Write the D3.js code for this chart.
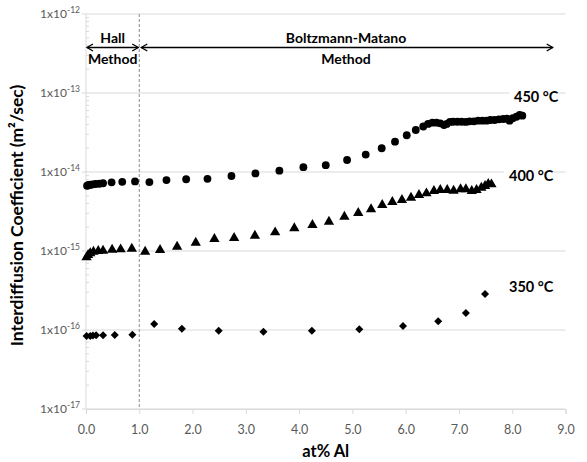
<!DOCTYPE html>
<html><head><meta charset="utf-8">
<script src="https://cdn.jsdelivr.net/npm/d3@7"></script>
<style>body{margin:0;background:#fff}</style>
</head><body>
<svg id="c" width="587" height="462"></svg>
<script>
const xTicks = [0,1,2,3,4,5,6,7,8,9];
const yExps = [-12,-13,-14,-15,-16,-17];

const x450 = [0.02,0.04,0.06,0.09,0.13,0.18,0.25,0.32,0.48,0.68,0.92,1.19,1.51,1.88,2.28,2.73,3.18,3.63,4.08,4.50,4.90,5.25,5.55,5.80,6.02,6.19,6.33,6.42,6.50,6.58,6.65,6.72,6.77,6.83,6.89,6.97,7.05,7.13,7.20,7.28,7.36,7.44,7.52,7.59,7.67,7.75,7.83,7.90,7.95,8.01,8.08,8.14,8.19];
const d450 = [6.7e-15,6.8e-15,6.85e-15,6.9e-15,6.98e-15,7.05e-15,7.1e-15,7.2e-15,7.4e-15,7.5e-15,7.6e-15,7.45e-15,7.9e-15,8.1e-15,8.2e-15,8.9e-15,9.6e-15,1.04e-14,1.15e-14,1.22e-14,1.42e-14,1.66e-14,2.0e-14,2.42e-14,2.92e-14,3.4e-14,3.77e-14,4.06e-14,4.21e-14,4.21e-14,4.13e-14,3.93e-14,4.06e-14,4.3e-14,4.33e-14,4.33e-14,4.33e-14,4.3e-14,4.38e-14,4.38e-14,4.46e-14,4.46e-14,4.46e-14,4.55e-14,4.55e-14,4.64e-14,4.69e-14,4.73e-14,4.46e-14,4.79e-14,5.0e-14,5.27e-14,5.17e-14];

const x400 = [0.01,0.04,0.08,0.14,0.23,0.32,0.49,0.65,0.86,1.11,1.39,1.71,2.06,2.41,2.78,3.17,3.55,3.91,4.25,4.56,4.85,5.11,5.35,5.56,5.75,5.93,6.10,6.25,6.39,6.53,6.65,6.78,6.90,7.03,7.13,7.24,7.33,7.42,7.49,7.55,7.61];
const d400 = [8.3e-16,8.9e-16,9.35e-16,9.8e-16,1.0e-15,1.01e-15,1.04e-15,1.05e-15,1.07e-15,9.8e-16,1.03e-15,1.13e-15,1.27e-15,1.42e-15,1.46e-15,1.56e-15,1.72e-15,1.94e-15,2.13e-15,2.35e-15,2.72e-15,3.03e-15,3.37e-15,3.82e-15,4.17e-15,4.42e-15,4.73e-15,5.12e-15,5.37e-15,5.74e-15,5.91e-15,5.91e-15,5.8e-15,6.04e-15,6.04e-15,5.74e-15,5.91e-15,6.33e-15,6.65e-15,7.05e-15,6.98e-15];

const x350 = [0.01,0.08,0.13,0.19,0.32,0.54,0.87,1.28,1.80,2.49,3.33,4.24,5.13,5.95,6.61,7.13,7.49];
const d350 = [8.4e-17,8.4e-17,8.5e-17,8.57e-17,8.57e-17,8.65e-17,8.73e-17,1.19e-16,1.04e-16,9.8e-17,9.5e-17,9.8e-17,1.02e-16,1.12e-16,1.29e-16,1.64e-16,2.85e-16];

const seriesLabels = ["450 °C","400 °C","350 °C"];
const methodSplit = 1.0;
const bmEnd = 8.76;

const svg = d3.select("#c");
const L=86, R=565.5, T=14, B=409;
const x = d3.scaleLinear().domain([0,9]).range([L,R]);
const y = d3.scaleLog().domain([1e-17,1e-12]).range([B,T]);
const gridC="#d9d9d9", txtC="#595959";
const font="Lato, 'Open Sans', sans-serif";

// gridlines
svg.append("g").selectAll("line").data(yExps).join("line")
  .attr("x1",L).attr("x2",R)
  .attr("y1",d=>y(Math.pow(10,d))).attr("y2",d=>y(Math.pow(10,d)))
  .attr("stroke",gridC).attr("stroke-width",1);

// y axis line + minor ticks
svg.append("line").attr("x1",L).attr("x2",L).attr("y1",T).attr("y2",B).attr("stroke",gridC);
const minor=[];
for(let e=-17;e<-12;e++) for(let m=2;m<=9;m++) minor.push(m*Math.pow(10,e));
svg.append("g").selectAll("line").data(minor).join("line")
  .attr("x1",L).attr("x2",L+3).attr("y1",d=>y(d)).attr("y2",d=>y(d)).attr("stroke",gridC);
svg.append("g").selectAll("line").data(yExps).join("line")
  .attr("x1",L-4).attr("x2",L).attr("y1",d=>y(Math.pow(10,d))).attr("y2",d=>y(Math.pow(10,d))).attr("stroke",gridC);

// x axis
const xAxis = d3.axisBottom(x).tickValues(xTicks).tickFormat(d3.format(".1f")).tickSize(5).tickPadding(11);
const gx = svg.append("g").attr("transform",`translate(0,${B})`).call(xAxis);
gx.select(".domain").attr("stroke",gridC);
gx.selectAll(".tick line").attr("stroke",gridC);
gx.selectAll(".tick text").attr("fill",txtC).attr("font-family",font).attr("font-size",12.5);

// y tick labels
const yl = svg.append("g").selectAll("text").data(yExps).join("text")
  .attr("x",L-6).attr("y",d=>y(Math.pow(10,d))+4)
  .attr("text-anchor","end").attr("fill",txtC).attr("font-family",font).attr("font-size",12);
yl.append("tspan").text("1x10");
yl.append("tspan").attr("dy",-5).attr("font-size",8.5).text(d=>d);

// dashed method line
svg.append("line").attr("x1",x(methodSplit)).attr("x2",x(methodSplit)).attr("y1",T).attr("y2",B)
  .attr("stroke","#8c8c8c").attr("stroke-dasharray","3,2").attr("stroke-width",1);

// arrows
const ay=47.5;
function dArrow(x1,x2){
  const g=svg.append("g").attr("stroke","#000").attr("fill","none").attr("stroke-width",1.3);
  g.append("line").attr("x1",x1).attr("x2",x2).attr("y1",ay).attr("y2",ay);
  g.append("path").attr("d",`M${x1+6},${ay-3.5}L${x1},${ay}L${x1+6},${ay+3.5}`);
  g.append("path").attr("d",`M${x2-6},${ay-3.5}L${x2},${ay}L${x2-6},${ay+3.5}`);
}
dArrow(x(0)+1,x(methodSplit)-1);
dArrow(x(methodSplit)+2,x(bmEnd));
const tf={"font-family":font,"font-weight":"bold","font-size":14,"fill":"#000","text-anchor":"middle"};
function txt(t,cx,cy){const e=svg.append("text").attr("x",cx).attr("y",cy).text(t);for(const k in tf)e.attr(k,tf[k]);return e;}
const hc=(x(0)+x(methodSplit))/2, bc=(x(methodSplit)+x(bmEnd))/2;
txt("Hall",hc,43);
txt("Method",hc,64);
txt("Boltzmann-Matano",bc,43);
txt("Method",bc,64);

// series labels with white backgrounds
const labPos=[[514,97],[509,176],[509,287]];
seriesLabels.forEach((s,i)=>{
  const g=svg.append("g");
  g.append("rect").attr("x",labPos[i][0]-5).attr("y",labPos[i][1]-8).attr("width",50).attr("height",16).attr("fill", i<2?"#fff":"none");
  g.append("text").attr("x",labPos[i][0]).attr("y",labPos[i][1]+5).text(s)
   .attr("font-family",font).attr("font-weight","bold").attr("font-size",14.5).attr("fill","#000");
});

// markers
const data=[[x450,d450],[x400,d400],[x350,d350]];
const markerFns=[
  d=>`translate(${x(d[0])},${y(d[1])})`,
  d=>`translate(${x(d[0])},${y(d[1])})`,
  d=>`translate(${x(d[0])},${y(d[1])}) rotate(45)`
];
const syms=[d3.symbol().type(d3.symbolCircle).size(48),
            d3.symbol().type(d3.symbolTriangle).size(46),
            d3.symbol().type(d3.symbolSquare).size(32)];
data.forEach((s,i)=>{
  const pts=s[0].map((v,j)=>[v,s[1][j]]);
  svg.append("g").selectAll("path").data(pts).join("path")
    .attr("transform",markerFns[i])
    .attr("d",syms[i]).attr("fill","#000");
});

// axis titles
svg.append("text").attr("transform",`translate(23,${(T+B)/2+4}) rotate(-90)`)
  .attr("text-anchor","middle").attr("font-family",font).attr("font-weight","bold").attr("font-size",17.5)
  .text("Interdiffusion Coefficient (m²/sec)");
svg.append("text").attr("x",(L+R)/2).attr("y",457).attr("text-anchor","middle")
  .attr("font-family",font).attr("font-weight","bold").attr("font-size",16.5).text("at% Al");
</script>
</body></html>
